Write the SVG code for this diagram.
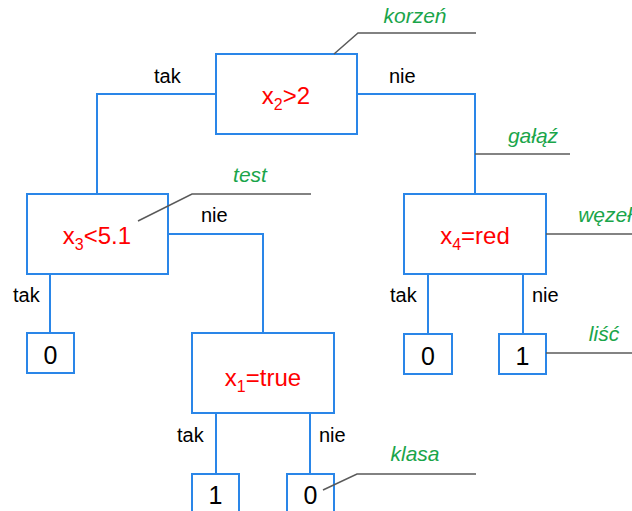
<svg xmlns="http://www.w3.org/2000/svg" width="632" height="511" viewBox="0 0 632 511">
  <style>
    .box { fill: #ffffff; stroke: #2a86e8; stroke-width: 2; }
    .edge { fill: none; stroke: #2a86e8; stroke-width: 2; }
    .lead { fill: none; stroke: #5a5a5a; stroke-width: 1.5; }
    .cond { font-family: "Liberation Sans", Arial, sans-serif; font-size: 24px; fill: #ff0000; text-anchor: middle; }
    .sub { font-size: 16px; }
    .leaf { font-family: "Liberation Sans", Arial, sans-serif; font-size: 25px; fill: #000000; text-anchor: middle; }
    .lbl { font-family: "Liberation Sans", Arial, sans-serif; font-size: 20px; fill: #000000; }
    .note { font-family: "Liberation Sans", Arial, sans-serif; font-size: 21px; font-style: italic; fill: #1aa54a; text-anchor: middle; }
  </style>
  <rect width="632" height="511" fill="#ffffff"/>

  <g id="connectors">
    <path class="edge" d="M216 94 H97 V194"/>
    <path class="edge" d="M357 94 H475 V194"/>
    <path class="edge" d="M168 234 H263 V333"/>
    <path class="edge" d="M50 274 V333"/>
    <path class="edge" d="M428 274 V334"/>
    <path class="edge" d="M523 274 V334"/>
    <path class="edge" d="M216 413 V474"/>
    <path class="edge" d="M310 413 V474"/>
    <text class="lbl" x="154" y="83">tak</text>
    <text class="lbl" x="389" y="83">nie</text>
    <text class="lbl" x="201" y="222">nie</text>
    <text class="lbl" x="13" y="302">tak</text>
    <text class="lbl" x="390" y="302">tak</text>
    <text class="lbl" x="532" y="302">nie</text>
    <text class="lbl" x="177" y="442">tak</text>
    <text class="lbl" x="319" y="442">nie</text>
  </g>

  <g id="root">
    <rect class="box" x="216" y="54" width="141" height="80"/>
    <text class="cond" x="286" y="104">x<tspan class="sub" dy="6">2</tspan><tspan dy="-6">&gt;2</tspan></text>
  </g>
  <g id="test-x3">
    <rect class="box" x="27" y="194" width="141" height="80"/>
    <text class="cond" x="97" y="244">x<tspan class="sub" dy="6">3</tspan><tspan dy="-6">&lt;5.1</tspan></text>
  </g>
  <g id="test-x4">
    <rect class="box" x="404" y="194" width="142" height="80"/>
    <text class="cond" x="475" y="244">x<tspan class="sub" dy="6">4</tspan><tspan dy="-6">=red</tspan></text>
  </g>
  <g id="test-x1">
    <rect class="box" x="192" y="333" width="142" height="80"/>
    <text class="cond" x="263" y="386">x<tspan class="sub" dy="6">1</tspan><tspan dy="-6">=true</tspan></text>
  </g>
  <g id="leaf-a">
    <rect class="box" x="27" y="333" width="47" height="40"/>
    <text class="leaf" x="50.5" y="364">0</text>
  </g>
  <g id="leaf-b">
    <rect class="box" x="404" y="334" width="48" height="40"/>
    <text class="leaf" x="428" y="365">0</text>
  </g>
  <g id="leaf-c">
    <rect class="box" x="499" y="334" width="47" height="40"/>
    <text class="leaf" x="522.5" y="365">1</text>
  </g>
  <g id="leaf-d">
    <rect class="box" x="192" y="474" width="47" height="40"/>
    <text class="leaf" x="215.5" y="504">1</text>
  </g>
  <g id="leaf-e">
    <rect class="box" x="287" y="474" width="47" height="40"/>
    <text class="leaf" x="310.5" y="504">0</text>
  </g>

  <g id="annotations">
    <path class="lead" d="M334 54 L358 33 H476"/>
    <text class="note" x="415" y="23">korzeń</text>
    <path class="lead" d="M475 154 H570"/>
    <text class="note" x="533" y="143">gałąź</text>
    <path class="lead" d="M138 221 L192 194 H311"/>
    <text class="note" x="250" y="182">test</text>
    <path class="lead" d="M546 234 H632"/>
    <text class="note" x="605" y="222">węzeł</text>
    <path class="lead" d="M546 353 H632"/>
    <text class="note" x="604" y="341">liść</text>
    <path class="lead" d="M323 490 L357 474 H476"/>
    <text class="note" x="415" y="461">klasa</text>
  </g>
</svg>
